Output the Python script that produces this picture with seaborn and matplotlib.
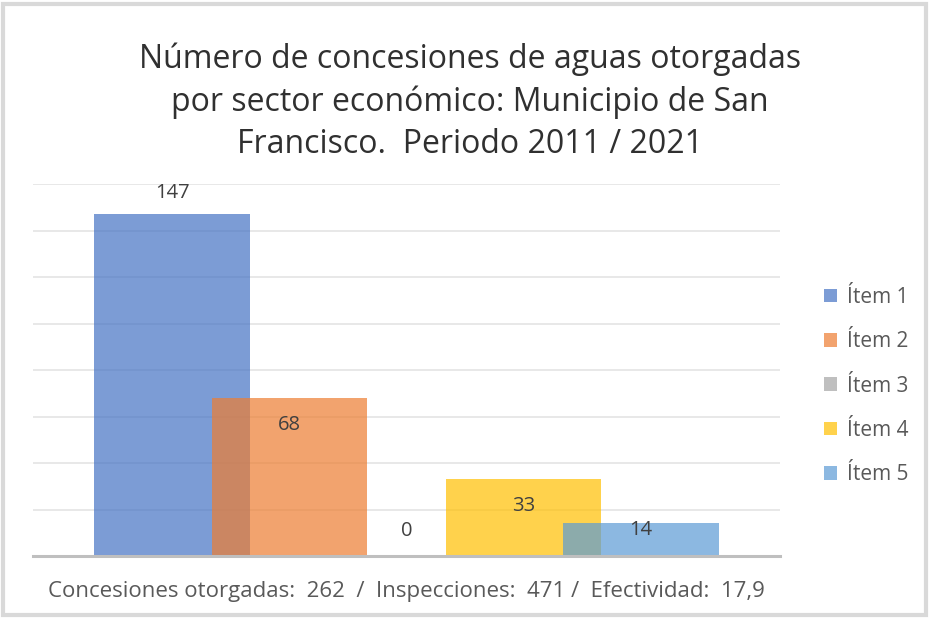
import matplotlib
matplotlib.use("Agg")
import matplotlib.pyplot as plt
from matplotlib.patches import Rectangle
import seaborn as sns
import pandas as pd

# data
items = ["Ítem 1", "Ítem 2", "Ítem 3", "Ítem 4", "Ítem 5"]
values = [147, 68, 0, 33, 14]
colors = ["#4472C4", "#ED7D31", "#A5A5A5", "#FFC000", "#5B9BD5"]
title = "Número de concesiones de aguas otorgadas\npor sector económico: Municipio de San\nFrancisco.  Periodo 2011 / 2021"
xlabel = "Concesiones otorgadas:  262  /  Inspecciones:  471 /  Efectividad:  17,9"

# label offsets (pixels from bar top), Excel-like placement
label_offsets = [21, -27, 25, -27, -7]

sns.set_theme(style="white")
plt.rcParams["font.family"] = ["Open Sans", "DejaVu Sans"]

df = pd.DataFrame({"item": items, "value": values})

fig = plt.figure(figsize=(9.30, 6.18), dpi=100)
ax = fig.add_axes([33 / 930, 1 - 556 / 618, 747 / 930, 372 / 618])

sns.barplot(data=df, x="item", y="value", hue="item", palette=colors,
            width=1.33, alpha=0.7, saturation=1, linewidth=0, edgecolor="none",
            legend=False, ax=ax, zorder=3)

ax.set_ylim(0, 160)
ax.set_xlim(-1.19, 5.19)
ax.set_yticks(range(0, 161, 20))
ax.yaxis.grid(True, color="#e6e6e6", linewidth=1.3, zorder=0)
ax.set_axisbelow(True)
ax.tick_params(left=False, bottom=False, labelleft=False, labelbottom=False)
for s in ["top", "right", "left"]:
    ax.spines[s].set_visible(False)
ax.spines["bottom"].set_color("#bfbfbf")
ax.spines["bottom"].set_linewidth(2.2)
ax.spines["bottom"].set_zorder(5)
ax.set_ylabel("")
ax.set_xlabel(xlabel, fontsize=16, color="#595959", labelpad=18)

for i, (v, off) in enumerate(zip(values, label_offsets)):
    ax.annotate(f"{v}", xy=(i, v), xytext=(0, off), textcoords="offset pixels",
                ha="center", va="center", fontsize=14.5, color="#404040", zorder=6)

fig.text(470 / 930, 1 - 102 / 618, title, ha="center", va="center",
         fontsize=23, color="#303030", linespacing=1.36)

# legend
handles = [Rectangle((0, 0), 1, 1, facecolor=c, alpha=0.7, edgecolor="none") for c in colors]
fig.legend(handles, items, loc="center left", bbox_to_anchor=(805 / 930, 1 - 386 / 618),
           frameon=False, fontsize=15, labelcolor="#595959", handlelength=0.65,
           handleheight=0.65, handletextpad=0.45, labelspacing=1.12)

fig.patches.append(Rectangle((3 / 930, 3 / 618), 923 / 930, 611 / 618, transform=fig.transFigure,
                             fill=False, edgecolor="#d9d9d9", linewidth=3))

fig.savefig("out.png", dpi=100)
